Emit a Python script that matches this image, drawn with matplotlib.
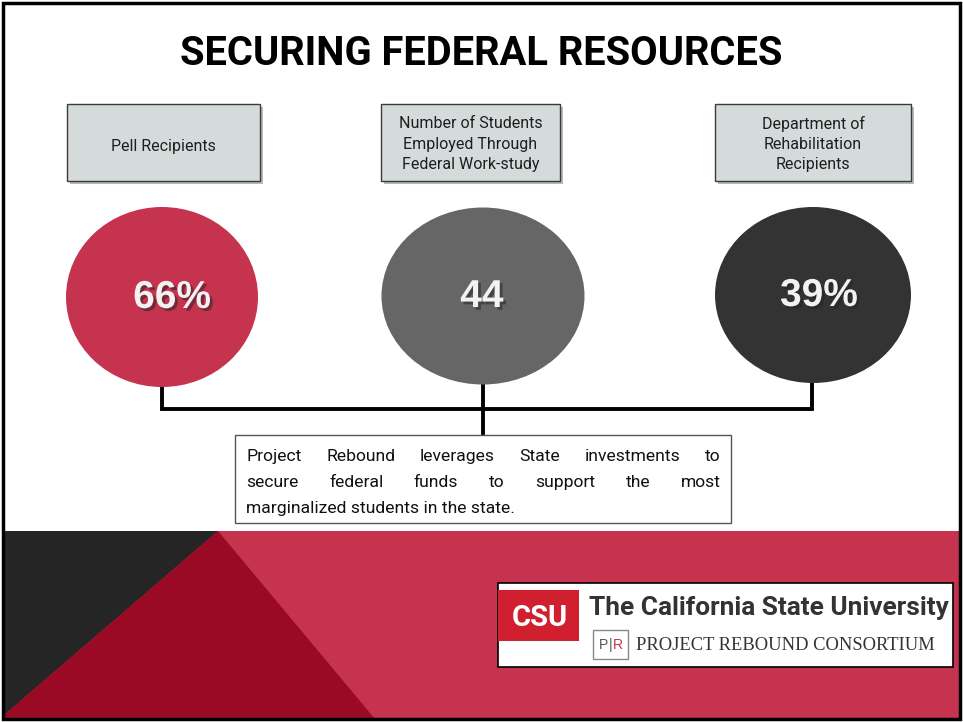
import matplotlib
matplotlib.use("Agg")
from matplotlib import pyplot as plt
from matplotlib.patches import Ellipse, Rectangle, Polygon
from matplotlib import patheffects as pe

# slide content
title = "SECURING FEDERAL RESOURCES"
headers = ["Pell Recipients",
           "Number of Students\nEmployed Through\nFederal Work-study",
           "Department of\nRehabilitation\nRecipients"]
values = ["66%", "44", "39%"]
circle_colors = ["#c5334f", "#666666", "#333333"]
summary = [["Project", "Rebound", "leverages", "State", "investments", "to"],
           ["secure", "federal", "funds", "to", "support", "the", "most"],
           ["marginalized students in the state."]]
logo_name = "The California State University"
logo_sub = "PROJECT REBOUND CONSORTIUM"

W, H = 963, 722
NARROW = ["Liberation Sans Narrow", "Roboto", "DejaVu Sans"]
SANS = ["Liberation Sans", "DejaVu Sans"]

fig = plt.figure(figsize=(W / 100, H / 100), dpi=100)
ax = fig.add_axes([0, 0, 1, 1])
ax.set_xlim(0, W)
ax.set_ylim(H, 0)
ax.axis("off")
renderer = fig.canvas.get_renderer()


def fit_width(t, width):
    # scale the font so the text spans the given pixel width
    w = t.get_window_extent(renderer).width
    t.set_fontsize(t.get_fontsize() * width / w)


def justified(words, x0, x1, y, **kw):
    # words share one baseline, spread to fill x0..x1
    texts = [ax.text(0, y, w, ha="left", va="baseline", **kw) for w in words]
    widths = [t.get_window_extent(renderer).width for t in texts]
    if len(words) == 1:
        texts[0].set_x(x0)
        return
    gap = (x1 - x0 - sum(widths)) / (len(words) - 1)
    x = x0
    for t, w in zip(texts, widths):
        t.set_x(x)
        x += w + gap


# outer frame
ax.add_patch(Rectangle((3, 3), 957, 716, fill=False, ec="black", lw=2.5, zorder=10))

t = ax.text(481, 54, title, ha="center", va="center", fontsize=30,
            fontweight="bold", family=NARROW, color="black")
fit_width(t, 603)

# header boxes
boxes = [(67, 260), (381, 560), (715, 911)]
label_y = [146, 144, 144]
for (x0, x1), label, ly in zip(boxes, headers, label_y):
    ax.add_patch(Rectangle((x0 + 3, 107), x1 - x0, 77, fc="#8a8a8a", ec="none", alpha=0.6))
    ax.add_patch(Rectangle((x0, 104), x1 - x0, 77, fc="#d5dbdb", ec="#3a3a3a", lw=1))
    ax.text((x0 + x1) / 2, ly, label, ha="center", va="center", fontsize=11.5,
            family=NARROW, color="#1e1e1e", linespacing=1.45)

# value circles
circles = [(162, 297, 192, 180), (483, 296, 203, 177), (813, 295, 196, 176)]
num_x = [172, 482, 819]
for (cx, cy, w, h), c, v, nx in zip(circles, circle_colors, values, num_x):
    ax.add_patch(Ellipse((cx, cy), w, h, fc=c, ec="none", zorder=2))
    ax.text(nx, cy + 1, v, ha="center", va="center", fontsize=28, fontweight="bold",
            family=SANS, color="#f2f2f2", zorder=3,
            path_effects=[pe.withSimplePatchShadow(offset=(2, -2), shadow_rgbFace="#222222", alpha=0.5)])

# connector lines
lw = 2.8
ax.plot([162, 162, 812, 812], [387, 409, 409, 383], color="black", lw=lw, zorder=1,
        solid_joinstyle="miter")
ax.plot([483, 483], [385, 436], color="black", lw=lw, zorder=1)

# summary box
ax.add_patch(Rectangle((235, 435), 496, 88, fc="white", ec="#555555", lw=1, zorder=2))
body = dict(fontsize=12.6, family=NARROW, color="#111111", zorder=3)
for i, words in enumerate(summary):
    justified(words, 246, 721, 461 + 26 * i, **body)

# bottom band
ax.add_patch(Rectangle((3, 531), 957, 188, fc="#c5334f", ec="none"))
ax.add_patch(Polygon([(3, 531), (218, 531), (3, 716)], closed=True, fc="#252525", ec="none"))
ax.add_patch(Polygon([(218, 531), (3, 716), (3, 719), (375, 719)], closed=True,
                     fc="#9b0a24", ec="none"))

# logo
ax.add_patch(Rectangle((498, 583), 455, 84, fc="white", ec="black", lw=1.2, zorder=4))
ax.add_patch(Rectangle((498, 590), 81, 51, fc="#d0202f", ec="none", zorder=5))
t = ax.text(540, 618, "CSU", ha="center", va="center", fontsize=26, fontweight="bold",
            family=NARROW, color="white", zorder=6)
fit_width(t, 56)
t = ax.text(589, 608, logo_name, ha="left", va="center", fontsize=20, fontweight="bold",
            family=NARROW, color="#333333", zorder=6)
fit_width(t, 360)
ax.add_patch(Rectangle((593, 630), 35, 29, fc="white", ec="#888888", lw=1, zorder=5))
ax.text(603, 645, "P", ha="center", va="center", fontsize=10, family=SANS, color="#555555", zorder=6)
ax.text(610.5, 645, "|", ha="center", va="center", fontsize=10, family=SANS, color="#555555", zorder=6)
ax.text(618, 645, "R", ha="center", va="center", fontsize=10, family=SANS, color="#c5334f", zorder=6)
t = ax.text(636, 646, logo_sub, ha="left", va="center", fontsize=12,
            family=["Liberation Serif", "DejaVu Serif"], color="#333333", zorder=6)
fit_width(t, 296)

fig.savefig("out.png", dpi=100)
